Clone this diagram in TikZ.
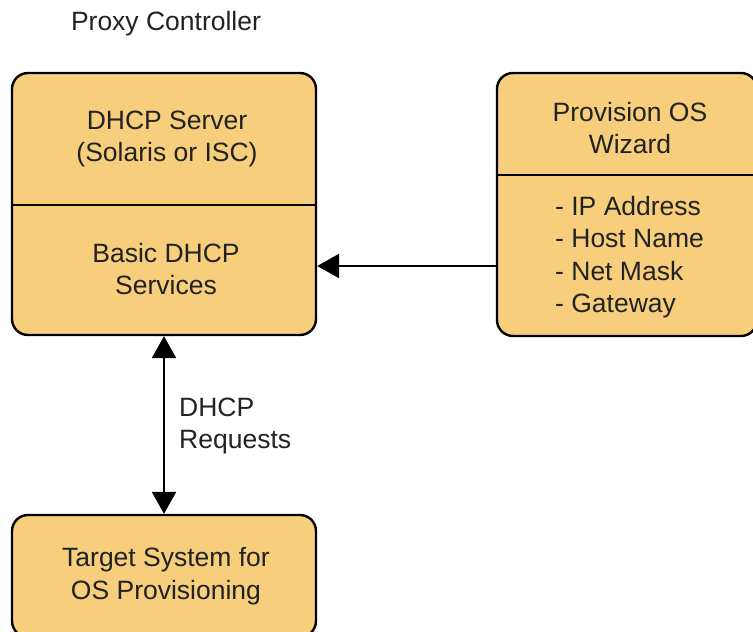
\documentclass[tikz,border=0pt]{standalone}
\usepackage{fontspec}
\setmainfont{Liberation Sans}
\usepackage{xcolor}
\usepackage{tikz}
\usetikzlibrary{arrows.meta, positioning}

\definecolor{boxfill}{RGB}{246,206,124}
\definecolor{inktext}{RGB}{34,34,34}

\begin{document}
\begin{tikzpicture}[
  x=1pt, y=-1pt,
  line width=2.4pt,
  font=\fontsize{26.5}{32.5}\selectfont,
  box/.style={rectangle, draw, fill=boxfill, rounded corners=16pt, inner sep=0pt},
  label/.style={align=center, text=inktext, inner sep=0pt},
  tip/.style={-{Triangle[length=22pt, width=24pt]}},
  twotip/.style={{Triangle[length=22pt, width=24pt]}-{Triangle[length=22pt, width=24pt]}}
]
\useasboundingbox (0,0) rectangle (753,632);

% Title
\node[label] (title) at (166,24) {Proxy Controller};

% Proxy controller boxes
\node[box, minimum width=304pt, minimum height=262pt] (dhcp) at (164,204) {};
\node[box, minimum width=260pt, minimum height=263pt] (wizard) at (627,204.5) {};
\node[box, minimum width=304pt, minimum height=122pt] (target) at (164,576) {};

% Dividers
\draw (dhcp.west |- 0,205) -- (dhcp.east |- 0,205);
\draw (wizard.west |- 0,175) -- (wizard.east |- 0,175);

% Texts
\node[label] (server) at (167,139) {DHCP Server\\(Solaris or ISC)};
\node[label] (basic) at (166,269) {Basic DHCP\\Services};
\node[label] (provision) at (630,128) {Provision OS\\Wizard};
\node[label, align=left, anchor=west] (fields) at (554,257)
  {- IP Address\\- Host Name\\- Net Mask\\- Gateway};
\node[label] (targettext) at (166,576) {Target System for\\OS Provisioning};
\node[label, align=left, anchor=west] (requests) at (178,426) {DHCP\\Requests};

% Arrows
\draw[tip] (wizard.west |- 0,266) -- (dhcp.east |- 0,266);
\draw[twotip] (dhcp.south) -- (target.north);

\end{tikzpicture}
\end{document}
